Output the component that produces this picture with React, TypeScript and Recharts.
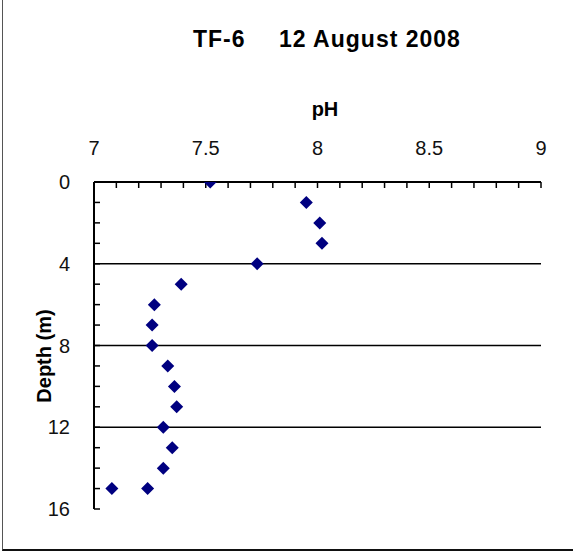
import { ScatterChart, Scatter, XAxis, YAxis, ReferenceLine } from 'recharts';

// depth (m) of each sample and the pH read at that depth
const depths = [0, 1, 2, 3, 4, 5, 6, 7, 8, 9, 10, 11, 12, 13, 14, 15, 15];
const phValues = [7.52, 7.95, 8.01, 8.02, 7.73, 7.39, 7.27, 7.26, 7.26, 7.33, 7.36, 7.37, 7.31, 7.35, 7.31, 7.08, 7.24];

const phTicks = [7, 7.1, 7.2, 7.3, 7.4, 7.5, 7.6, 7.7, 7.8, 7.9, 8, 8.1, 8.2, 8.3, 8.4, 8.5, 8.6, 8.7, 8.8, 8.9, 9];
const depthTicks = [0, 1, 2, 3, 4, 5, 6, 7, 8, 9, 10, 11, 12, 13, 14, 15, 16];
const gridDepths = [4, 8, 12];

const points = depths.map((depth, i) => ({ depth, ph: phValues[i] }));

const FONT = '"Liberation Sans", Arial, sans-serif';
const NAVY = '#000080';

const Diamond = (props: any) => {
  const { cx, cy } = props;
  if (cx == null || cy == null) return null;
  const r = 6.5;
  return <polygon points={`${cx},${cy - r} ${cx + r},${cy} ${cx},${cy + r} ${cx - r},${cy}`} fill={NAVY} />;
};

const phFormat = (v: number) => (Math.round(v * 10) % 5 === 0 ? String(v) : '');
const depthFormat = (v: number) => (v % 4 === 0 ? String(v) : '');

const renderPhTitle = () => (
  <text x={325} y={116} textAnchor="middle" fontFamily={FONT} fontWeight="bold" fontSize={20} fill="#000">
    pH
  </text>
);

const renderDepthTitle = () => (
  <text
    x={51}
    y={356}
    transform="rotate(-90 51 356)"
    textAnchor="middle"
    fontFamily={FONT}
    fontWeight="bold"
    fontSize={20}
    fill="#000"
  >
    Depth (m)
  </text>
);

export default function App() {
  const tickStyle = { fill: '#111', fontSize: 20, fontFamily: FONT };
  return (
    <div style={{ position: 'absolute', left: 0, top: 0, width: 573, height: 554, background: '#fff' }}>
      <div
        style={{
          position: 'absolute',
          left: 2,
          top: -4,
          width: 600,
          height: 555,
          borderLeft: '1px solid #555',
          borderBottom: '2px solid #111',
          boxSizing: 'border-box',
        }}
      />
      <div
        style={{
          position: 'absolute',
          left: 193,
          top: 28,
          fontFamily: FONT,
          fontWeight: 'bold',
          fontSize: 23,
          lineHeight: 1,
          letterSpacing: 1,
          whiteSpace: 'pre',
        }}
      >
        <span>TF-6</span>
        <span style={{ position: 'absolute', left: 86 }}>12 August 2008</span>
      </div>
      <ScatterChart width={573} height={554} margin={{ top: 122, right: 32, bottom: 45, left: 0 }}>
        <XAxis
          xAxisId="ph"
          type="number"
          dataKey="ph"
          orientation="top"
          domain={[7, 9]}
          ticks={phTicks}
          interval={0}
          tickFormatter={phFormat}
          tickSize={-6}
          tickMargin={33}
          height={60}
          allowDataOverflow
          axisLine={{ stroke: '#000', strokeWidth: 2 }}
          tickLine={{ stroke: '#000', strokeWidth: 1.5 }}
          tick={tickStyle}
          label={{ content: renderPhTitle }}
        />
        <XAxis
          xAxisId="frame"
          type="number"
          orientation="bottom"
          domain={[0, 1]}
          height={0}
          tick={false}
          tickLine={false}
          axisLine={{ stroke: '#8a8a8a', strokeWidth: 2 }}
        />
        <YAxis
          yAxisId="depth"
          type="number"
          dataKey="depth"
          reversed
          domain={[0, 16]}
          ticks={depthTicks}
          interval={0}
          tickFormatter={depthFormat}
          tickSize={-6}
          tickMargin={30}
          width={94}
          allowDataOverflow
          axisLine={{ stroke: '#000', strokeWidth: 2 }}
          tickLine={{ stroke: '#000', strokeWidth: 1.5 }}
          tick={tickStyle}
          label={{ content: renderDepthTitle }}
        />
        <YAxis
          yAxisId="frame"
          type="number"
          orientation="right"
          domain={[0, 1]}
          width={0}
          tick={false}
          tickLine={false}
          axisLine={{ stroke: '#8a8a8a', strokeWidth: 2 }}
        />
        {gridDepths.map((d) => (
          <ReferenceLine key={d} xAxisId="ph" yAxisId="depth" y={d} stroke="#000" strokeWidth={1.5} />
        ))}
        <Scatter xAxisId="ph" yAxisId="depth" data={points} shape={Diamond} isAnimationActive={false} />
      </ScatterChart>
    </div>
  );
}
